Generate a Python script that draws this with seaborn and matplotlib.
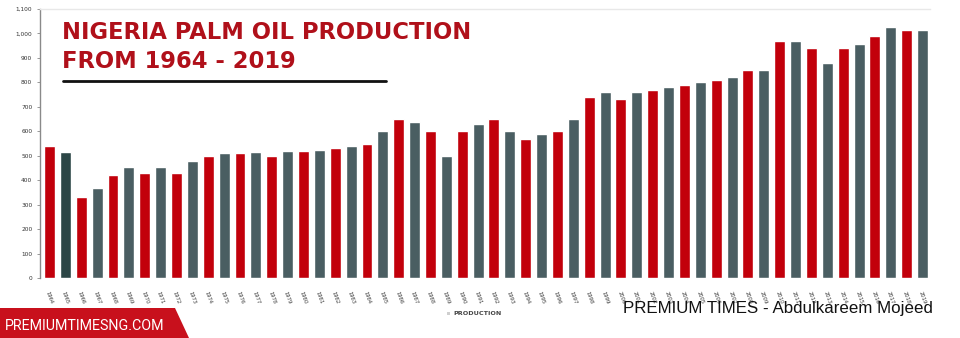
import matplotlib
matplotlib.use("Agg")
import matplotlib.pyplot as plt
from matplotlib.patches import Polygon, Rectangle
from matplotlib.lines import Line2D
import seaborn as sns
import pandas as pd

# Annual palm oil production, 1964 - 2019 (thousand tonnes)
years = [str(y) for y in range(1964, 2020)]
production = [
    540, 515, 330, 370, 420, 455, 430, 455, 430, 480,
    500, 510, 510, 515, 500, 520, 520, 522, 530, 540,
    550, 600, 650, 640, 600, 500, 600, 630, 650, 600,
    570, 590, 600, 650, 740, 760, 730, 760, 770, 780,
    790, 800, 810, 820, 850, 850, 970, 970, 940, 880,
    940, 955, 990, 1025, 1015, 1015,
]
y_ticks = [0, 100, 200, 300, 400, 500, 600, 700, 800, 900, 1000, 1100]
y_tick_labels = ["0", "100", "200", "300", "400", "500", "600", "700",
                 "800", "900", "1,000", "1,100"]

RED = "#c2000b"
SLATE = "#4a5e62"
SLATE_DARK = "#2c4646"

bar_colors = [RED if i % 2 == 0 else SLATE for i in range(len(years))]
bar_colors[1] = SLATE_DARK

df = pd.DataFrame({"year": years, "production": production})

sns.set_theme(style="white")
plt.rcParams["font.family"] = ["DejaVu Sans"]

fig = plt.figure(figsize=(9.6, 3.38), dpi=100)
W, H = 960, 338
ax = fig.add_axes([40 / W, 1 - 278.3 / H, 890 / W, (278.3 - 8.8) / H])

sns.barplot(data=df, x="year", y="production", hue="year",
            palette=bar_colors, legend=False, width=0.69,
            saturation=1, ax=ax)

ax.set_xlim(-0.6, len(years) - 1 + 0.47)
ax.set_ylim(0, 1100)
ax.set_xlabel("")
ax.set_ylabel("")

ax.set_yticks(y_ticks)
ax.set_yticklabels(y_tick_labels, fontsize=4.2, color="#333333")
ax.tick_params(axis="y", which="both", left=True, length=2.5, width=0.6,
               color="#888888", pad=3)
ax.set_xticks(range(len(years)))
ax.set_xticklabels(years, fontsize=3.7, color="#333333", rotation=-70,
                   ha="left", va="top", rotation_mode="anchor")
ax.tick_params(axis="x", bottom=False, pad=3)

for side in ["right", "bottom"]:
    ax.spines[side].set_visible(False)
ax.spines["left"].set_color("#8a8a8a")
ax.spines["left"].set_linewidth(1.0)
ax.spines["top"].set_color("#e8e8e8")
ax.spines["top"].set_linewidth(1.0)
ax.grid(False)

# Title block
fig.text(62 / W, 1 - 21 / H, "NIGERIA PALM OIL PRODUCTION", fontsize=16.3,
         fontweight="bold", color="#b0101a", ha="left", va="top")
fig.text(62 / W, 1 - 50 / H, "FROM 1964 - 2019", fontsize=16.3,
         fontweight="bold", color="#b0101a", ha="left", va="top")
fig.add_artist(Line2D([63 / W, 386 / W], [1 - 80.5 / H, 1 - 80.5 / H],
                      color="#111111", linewidth=2.0,
                      transform=fig.transFigure))

# Legend below the axis
fig.add_artist(Rectangle((447 / W, 1 - 315 / H), 3 / W, 3 / H,
                         facecolor="#cfcfcf", edgecolor="none",
                         transform=fig.transFigure))
fig.text(453 / W, 1 - 313.5 / H, "PRODUCTION", fontsize=4.6,
         fontweight="bold", color="#444444", ha="left", va="center")

# Source banner, bottom left
banner = Polygon([(0, 1 - 308 / H), (175 / W, 1 - 308 / H),
                  (189 / W, 0), (0, 0)], closed=True,
                 facecolor="#c8101c", edgecolor="none",
                 transform=fig.transFigure)
fig.add_artist(banner)
fig.text(5 / W, 1 - 326.5 / H, "PREMIUMTIMESNG.COM", fontsize=10.3,
         family="Roboto", color="white", ha="left", va="center")

# Credit, bottom right
fig.text(623 / W, 1 - 309 / H, "PREMIUM TIMES - Abdulkareem Mojeed",
         fontsize=12.2, family="Liberation Sans", color="#111111",
         ha="left", va="center")

fig.savefig("out.png", dpi=100)
